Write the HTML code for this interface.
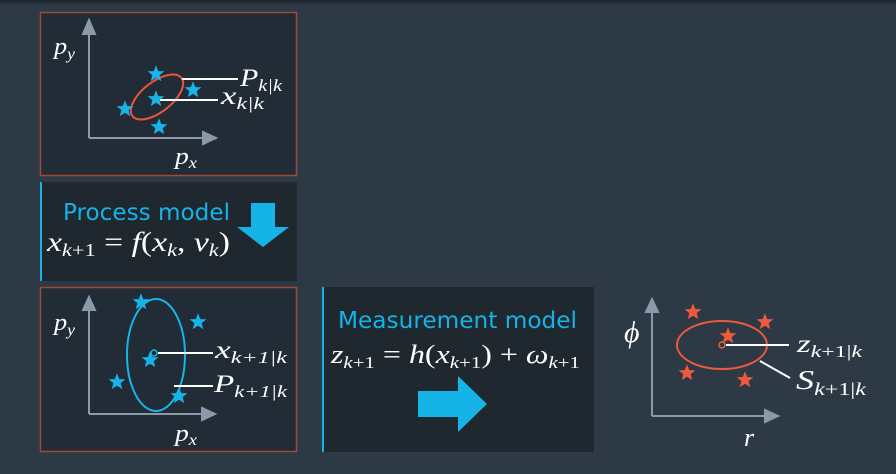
<!DOCTYPE html>
<html><head><meta charset="utf-8"><style>
html,body{margin:0;padding:0;background:#2d3a46;}
svg{display:block}
.m{font-family:"Liberation Serif",serif;font-style:italic;fill:#fff}
.s{font-family:"DejaVu Sans","Liberation Sans",sans-serif;fill:#16b3e6}
</style></head><body>
<svg width="896" height="474" viewBox="0 0 896 474" xmlns="http://www.w3.org/2000/svg">
<defs>
<linearGradient id="tg" x1="0" y1="0" x2="0" y2="1"><stop offset="0" stop-color="#1c242c"/><stop offset="1" stop-color="#2d3a46"/></linearGradient>
<path id="st" transform="scale(1.25)" d="M0,-7 L1.8,-2.3 L6.7,-2.2 L2.9,0.9 L4.2,5.7 L0,3 L-4.2,5.7 L-2.9,0.9 L-6.7,-2.2 L-1.8,-2.3Z"/>
</defs>
<rect x="0" y="0" width="896" height="474" fill="#2d3a46"/>
<rect x="0" y="0" width="896" height="6" fill="url(#tg)"/>

<!-- top box -->
<rect x="40.5" y="12.5" width="256" height="163" fill="#222c36" stroke="#a04a36" stroke-width="1.5"/>
<g stroke="#8a9aab" stroke-width="2" fill="#8a9aab">
<line x1="89" y1="138" x2="89" y2="30"/><polygon points="83,34 95,34 89,20"/>
<line x1="89" y1="138" x2="205" y2="138"/><polygon points="203,132 203,144 216,138"/>
</g>
<text class="m" x="54" y="54" font-size="24" textLength="21" lengthAdjust="spacingAndGlyphs">p<tspan font-size="16" dy="5">y</tspan></text>
<text class="m" x="175" y="164" font-size="24" textLength="22" lengthAdjust="spacingAndGlyphs">p<tspan font-size="16" dy="4">x</tspan></text>
<ellipse cx="157" cy="97" rx="31" ry="15" transform="rotate(-38 157 97)" fill="none" stroke="#e8553a" stroke-width="2"/>
<g fill="#17b4e8">
<use href="#st" x="156" y="74"/><use href="#st" x="193" y="90"/><use href="#st" x="156" y="99"/><use href="#st" x="125" y="109"/><use href="#st" x="159" y="127"/>
</g>
<g stroke="#fff" stroke-width="2"><line x1="182" y1="79" x2="238" y2="79"/><line x1="160" y1="100" x2="218" y2="100"/></g>
<text class="m" x="240" y="86" font-size="25" textLength="42" lengthAdjust="spacingAndGlyphs">P<tspan font-size="17" dy="5">k|k</tspan></text>
<text class="m" x="221" y="104" font-size="25" textLength="43" lengthAdjust="spacingAndGlyphs">x<tspan font-size="17" dy="5">k|k</tspan></text>

<!-- process model -->
<rect x="40" y="182" width="257" height="99" fill="#1f272f"/>
<rect x="40" y="182" width="2" height="99" fill="#16b3e6"/>
<text class="s" x="63" y="220" font-size="23" textLength="167" lengthAdjust="spacingAndGlyphs">Process model</text>
<text class="m" x="47" y="251" font-size="27" style="font-style:normal" textLength="183" lengthAdjust="spacingAndGlyphs"><tspan font-style="italic">x</tspan><tspan font-size="18" dy="5" font-style="italic">k</tspan><tspan font-size="18">+1</tspan><tspan dy="-5"> = </tspan><tspan font-style="italic">f</tspan>(<tspan font-style="italic">x</tspan><tspan font-size="18" dy="5" font-style="italic">k</tspan><tspan dy="-5">, </tspan><tspan font-style="italic">ν</tspan><tspan font-size="18" dy="5" font-style="italic">k</tspan><tspan dy="-5">)</tspan></text>
<polygon points="251,203 275,203 275,227 289,227 263,247 237,227 251,227" fill="#16b3e6"/>

<!-- bottom left box -->
<rect x="40.5" y="287.5" width="256" height="164" fill="#222c36" stroke="#a04a36" stroke-width="1.5"/>
<g stroke="#8a9aab" stroke-width="2" fill="#8a9aab">
<line x1="89" y1="414" x2="89" y2="306"/><polygon points="83,310 95,310 89,297"/>
<line x1="89" y1="414" x2="204" y2="414"/><polygon points="202,408 202,420 215,414"/>
</g>
<text class="m" x="54" y="330" font-size="24" textLength="21" lengthAdjust="spacingAndGlyphs">p<tspan font-size="16" dy="5">y</tspan></text>
<text class="m" x="175" y="441" font-size="24" textLength="22" lengthAdjust="spacingAndGlyphs">p<tspan font-size="16" dy="4">x</tspan></text>
<ellipse cx="156" cy="355" rx="29" ry="56" fill="none" stroke="#17b4e8" stroke-width="2"/>
<circle cx="154" cy="353" r="3" fill="none" stroke="#17b4e8" stroke-width="1.5"/>
<g fill="#17b4e8">
<use href="#st" x="141" y="302"/><use href="#st" x="198" y="322"/><use href="#st" x="150" y="360"/><use href="#st" x="117" y="382"/><use href="#st" x="179" y="396"/>
</g>
<g stroke="#fff" stroke-width="2"><line x1="158" y1="353" x2="213" y2="353"/><line x1="174" y1="386" x2="213" y2="386"/></g>
<text class="m" x="215" y="358" font-size="25" textLength="72" lengthAdjust="spacingAndGlyphs">x<tspan font-size="17" dy="5">k+1|k</tspan></text>
<text class="m" x="214" y="392" font-size="25" textLength="73" lengthAdjust="spacingAndGlyphs">P<tspan font-size="17" dy="5">k+1|k</tspan></text>

<!-- measurement model -->
<rect x="322" y="287" width="272" height="165" fill="#1f272f"/>
<rect x="322" y="287" width="2" height="165" fill="#16b3e6"/>
<text class="s" x="338" y="328" font-size="23" textLength="239" lengthAdjust="spacingAndGlyphs">Measurement model</text>
<text class="m" x="331" y="363" font-size="26" style="font-style:normal" textLength="249" lengthAdjust="spacingAndGlyphs"><tspan font-style="italic">z</tspan><tspan font-size="17" dy="5" font-style="italic">k</tspan><tspan font-size="17">+1</tspan><tspan dy="-5"> = </tspan><tspan font-style="italic">h</tspan>(<tspan font-style="italic">x</tspan><tspan font-size="17" dy="5" font-style="italic">k</tspan><tspan font-size="17">+1</tspan><tspan dy="-5">) + </tspan><tspan font-style="italic">ω</tspan><tspan font-size="17" dy="5" font-style="italic">k</tspan><tspan font-size="17">+1</tspan></text>
<polygon points="418,391 458,391 458,376 487,404 458,432 458,417 418,417" fill="#16b3e6"/>

<!-- right plot -->
<g stroke="#8a9aab" stroke-width="2" fill="#8a9aab">
<line x1="652" y1="416" x2="652" y2="308"/><polygon points="646,312 658,312 652,299"/>
<line x1="652" y1="416" x2="767" y2="416"/><polygon points="765,410 765,422 778,416"/>
</g>
<text class="m" x="624" y="342" font-size="30">ϕ</text>
<text class="m" x="744" y="446" font-size="26">r</text>
<ellipse cx="722" cy="345" rx="45" ry="24" fill="none" stroke="#ee5a3c" stroke-width="2"/>
<circle cx="722" cy="345" r="3" fill="none" stroke="#ee5a3c" stroke-width="1.5"/>
<g fill="#f05a3c">
<use href="#st" x="693" y="312"/><use href="#st" x="765" y="322"/><use href="#st" x="728" y="336"/><use href="#st" x="687" y="373"/><use href="#st" x="745" y="380"/>
</g>
<g stroke="#fff" stroke-width="2"><line x1="726" y1="345" x2="789" y2="345"/><line x1="760" y1="361" x2="790" y2="378"/></g>
<text class="m" x="797" y="352" font-size="25" textLength="65" lengthAdjust="spacingAndGlyphs">z<tspan font-size="17" dy="5" style="font-style:normal"><tspan font-style="italic">k</tspan>+1|<tspan font-style="italic">k</tspan></tspan></text>
<text class="m" x="796" y="389" font-size="27" textLength="70" lengthAdjust="spacingAndGlyphs">S<tspan font-size="18" dy="6" style="font-style:normal"><tspan font-style="italic">k</tspan>+1|<tspan font-style="italic">k</tspan></tspan></text>
</svg>
</body></html>
